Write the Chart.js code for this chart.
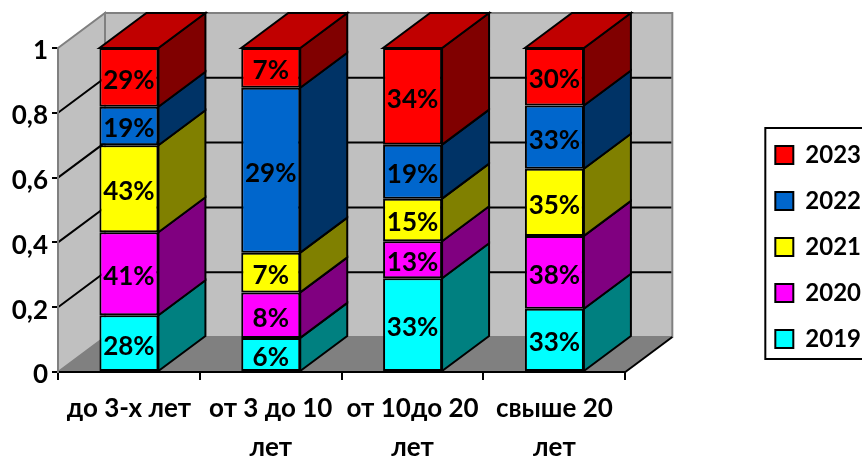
<!DOCTYPE html>
<html>
<head>
<meta charset="utf-8">
<style>html,body{margin:0;padding:0;background:#fff;overflow:hidden}canvas{display:block}</style>
<script src="https://cdn.jsdelivr.net/npm/chart.js@4"></script>
</head>
<body>
<canvas id="c" width="862" height="456"></canvas>
<script>
const categories = [["до 3-х лет"], ["от 3 до 10", "лет"], ["от 10до 20", "лет"], ["свыше 20", "лет"]];
const years = ["2019", "2020", "2021", "2022", "2023"];
const s2019 = [28, 6, 33, 33];
const s2020 = [41, 8, 13, 38];
const s2021 = [43, 7, 15, 35];
const s2022 = [19, 29, 19, 33];
const s2023 = [29, 7, 34, 30];
const yTicks = [0, 0.2, 0.4, 0.6, 0.8, 1];
const series = [s2019, s2020, s2021, s2022, s2023];
const frontColors = ["#00ffff", "#ff00ff", "#ffff00", "#0066cc", "#ff0000"];
const sideColors = ["#008080", "#800080", "#808000", "#003366", "#800000"];
const topColor = "#c00000";
const DX = 47, DY = -35;
const totals = categories.map((_, i) => series.reduce((a, s) => a + s[i], 0));
const FONT = "Lato";

function poly(ctx, pts, fill, stroke, lw) {
  ctx.beginPath();
  pts.forEach((p, i) => i ? ctx.lineTo(p[0], p[1]) : ctx.moveTo(p[0], p[1]));
  ctx.closePath();
  if (fill) { ctx.fillStyle = fill; ctx.fill(); }
  if (stroke) { ctx.strokeStyle = stroke; ctx.lineWidth = lw; ctx.lineJoin = "miter"; ctx.stroke(); }
}

const box3d = {
  id: "box3d",
  beforeDraw(chart) {
    const { ctx, chartArea: a, scales } = chart;
    const y = scales.y;
    ctx.save();
    const L = a.left, R = a.right, T = a.top, B = a.bottom;
    poly(ctx, [[L + DX, T + DY], [R + DX, T + DY], [R + DX, B + DY], [L + DX, B + DY]], "#c0c0c0", "#808080", 2);
    poly(ctx, [[L, T], [L + DX, T + DY], [L + DX, B + DY], [L, B]], "#c0c0c0", "#808080", 2);
    poly(ctx, [[L, B], [L + DX, B + DY], [R + DX, B + DY], [R, B]], "#808080", null, 0);
    ctx.strokeStyle = "#000"; ctx.lineWidth = 2;
    ctx.beginPath(); ctx.moveTo(R, B); ctx.lineTo(R + DX, B + DY); ctx.stroke();
    yTicks.slice(1, -1).forEach(v => {
      const py = y.getPixelForValue(v);
      ctx.beginPath();
      ctx.moveTo(L, py); ctx.lineTo(L + DX, py + DY); ctx.lineTo(R + DX - 1, py + DY);
      ctx.stroke();
    });
    ctx.restore();
  },
  beforeDatasetsDraw(chart) {
    const { ctx } = chart;
    ctx.save();
    chart.data.datasets.forEach((ds, di) => {
      chart.getDatasetMeta(di).data.forEach(bar => {
        const p = bar.getProps(["x", "y", "base", "width"], true);
        const r = p.x + p.width / 2, l = p.x - p.width / 2;
        poly(ctx, [[r, p.base], [r + DX, p.base + DY], [r + DX, p.y + DY], [r, p.y]], sideColors[di], "#000", 2);
        if (di === chart.data.datasets.length - 1) {
          poly(ctx, [[l, p.y], [l + DX, p.y + DY], [r + DX, p.y + DY], [r, p.y]], topColor, "#000", 2);
        }
      });
    });
    ctx.restore();
  },
  afterDatasetsDraw(chart) {
    const { ctx } = chart;
    ctx.save();
    ctx.fillStyle = "#000";
    ctx.font = "700 26px " + FONT;
    ctx.textAlign = "center";
    ctx.textBaseline = "middle";
    chart.data.datasets.forEach((ds, di) => {
      chart.getDatasetMeta(di).data.forEach((bar, i) => {
        const p = bar.getProps(["x", "y", "base"], true);
        ctx.fillText(series[di][i] + "%", p.x, (p.y + p.base) / 2 + 3);
      });
    });
    ctx.restore();
  },
  afterDraw(chart) {
    const { ctx, legend } = chart;
    const h = legend.legendHitBoxes;
    const first = h[0], last = h[h.length - 1];
    ctx.save();
    ctx.strokeStyle = "#000"; ctx.lineWidth = 2;
    ctx.strokeRect(first.left - 10, first.top - 15, 140, last.top + last.height - first.top + 23);
    ctx.restore();
  }
};

new Chart(document.getElementById("c"), {
  type: "bar",
  plugins: [box3d],
  data: {
    labels: categories,
    datasets: years.map((name, k) => ({
      label: name,
      data: series[k].map((v, i) => v / totals[i]),
      backgroundColor: frontColors[k],
      borderColor: "#000",
      borderWidth: 2,
      borderSkipped: false,
      barPercentage: 0.416,
      categoryPercentage: 1
    }))
  },
  options: {
    responsive: false,
    animation: false,
    devicePixelRatio: 1,
    layout: { padding: { top: 38, bottom: 0, left: 0, right: -9 } },
    plugins: {
      tooltip: { enabled: false },
      title: { display: false },
      legend: {
        position: "right",
        reverse: true,
        labels: {
          boxWidth: 18, boxHeight: 18, padding: 22, color: "#000",
          font: { family: FONT, size: 24, weight: "700" }
        }
      }
    },
    scales: {
      x: {
        stacked: true,
        afterFit(s) { s.height = 84; },
        grid: { drawOnChartArea: false, color: "#000", lineWidth: 2, tickLength: 8, offset: true },
        border: { color: "#000", width: 2 },
        ticks: {
          color: "#000", maxRotation: 0, autoSkip: false, padding: 9,
          font: { family: FONT, size: 26, weight: "700", lineHeight: 1.5 }
        }
      },
      y: {
        stacked: true, min: 0, max: 1,
        afterFit(s) { s.width = 58; },
        grid: { drawOnChartArea: false, color: "#000", lineWidth: 2, tickLength: 6 },
        border: { color: "#808080", width: 2 },
        afterBuildTicks(s) { s.ticks = yTicks.map(v => ({ value: v })); },
        ticks: {
          color: "#000", padding: 4,
          font: { family: FONT, size: 26, weight: "700", lineHeight: 0.23 },
          callback: v => ["", String(v).replace(".", ",")]
        }
      },
      gap: {
        position: "right",
        afterFit(s) { s.width = 128; },
        grid: { display: false },
        border: { display: false },
        ticks: { display: false }
      },
      topGap: {
        position: "top",
        afterFit(s) { s.height = 10; },
        grid: { display: false },
        border: { display: false },
        ticks: { display: false }
      }
    }
  }
});
</script>
</body>
</html>
